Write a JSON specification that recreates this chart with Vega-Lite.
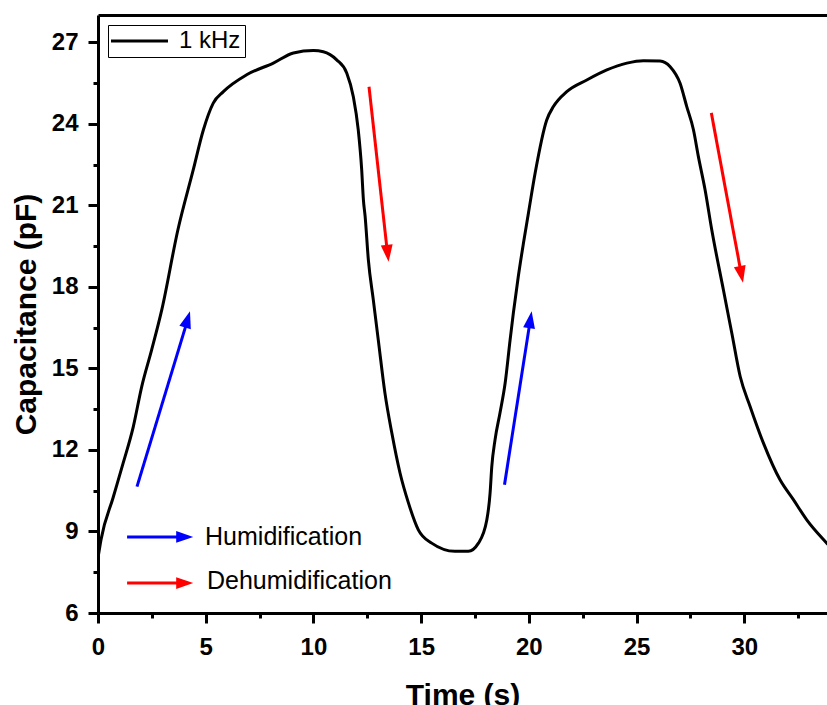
{
  "$schema": "https://vega.github.io/schema/vega-lite/v6.json",
  "width": 729,
  "height": 598,
  "autosize": {"type": "none"},
  "padding": {"left": 98, "top": 15, "right": 0, "bottom": 92},
  "background": "white",
  "config": {
    "view": {"stroke": null},
    "font": "Liberation Sans",
    "axis": {"grid": false, "domainColor": "black", "tickColor": "black", "labelColor": "black", "titleColor": "black", "labelFlush": false},
    "legend": {
      "orient": "top-left", "offset": 10, "padding": 4, "strokeColor": "black", "strokeWidth": 1,
      "fillColor": "white", "cornerRadius": 0, "labelFontSize": 24, "labelFont": "Liberation Sans",
      "labelColor": "black", "symbolType": "M-1.37,0L4.63,0", "symbolStrokeWidth": 3, "symbolSize": 361,
      "labelOffset": 43, "title": null
    }
  },
  "datasets": {
    "curve": [
      {"t": 0, "v": 8.03, "series": "1 kHz"},
      {"t": 0.14, "v": 8.70, "series": "1 kHz"},
      {"t": 0.70, "v": 10.24, "series": "1 kHz"},
      {"t": 1.17, "v": 11.52, "series": "1 kHz"},
      {"t": 1.64, "v": 12.86, "series": "1 kHz"},
      {"t": 2.03, "v": 14.33, "series": "1 kHz"},
      {"t": 2.49, "v": 15.68, "series": "1 kHz"},
      {"t": 2.96, "v": 17.15, "series": "1 kHz"},
      {"t": 3.71, "v": 20.10, "series": "1 kHz"},
      {"t": 4.42, "v": 22.30, "series": "1 kHz"},
      {"t": 4.89, "v": 23.77, "series": "1 kHz"},
      {"t": 5.35, "v": 24.76, "series": "1 kHz"},
      {"t": 5.82, "v": 25.18, "series": "1 kHz"},
      {"t": 6.90, "v": 25.80, "series": "1 kHz"},
      {"t": 8.14, "v": 26.23, "series": "1 kHz"},
      {"t": 9.07, "v": 26.60, "series": "1 kHz"},
      {"t": 10.00, "v": 26.69, "series": "1 kHz"},
      {"t": 10.46, "v": 26.65, "series": "1 kHz"},
      {"t": 11.08, "v": 26.35, "series": "1 kHz"},
      {"t": 11.55, "v": 25.86, "series": "1 kHz"},
      {"t": 11.85, "v": 25.00, "series": "1 kHz"},
      {"t": 12.08, "v": 23.78, "series": "1 kHz"},
      {"t": 12.24, "v": 22.31, "series": "1 kHz"},
      {"t": 12.32, "v": 21.20, "series": "1 kHz"},
      {"t": 12.40, "v": 20.59, "series": "1 kHz"},
      {"t": 12.55, "v": 18.99, "series": "1 kHz"},
      {"t": 12.78, "v": 17.52, "series": "1 kHz"},
      {"t": 13.01, "v": 16.05, "series": "1 kHz"},
      {"t": 13.32, "v": 14.09, "series": "1 kHz"},
      {"t": 13.64, "v": 12.62, "series": "1 kHz"},
      {"t": 14.02, "v": 11.15, "series": "1 kHz"},
      {"t": 14.41, "v": 10.05, "series": "1 kHz"},
      {"t": 14.87, "v": 9.06, "series": "1 kHz"},
      {"t": 15.49, "v": 8.57, "series": "1 kHz"},
      {"t": 16.57, "v": 8.27, "series": "1 kHz"},
      {"t": 17.19, "v": 8.27, "series": "1 kHz"},
      {"t": 17.66, "v": 8.57, "series": "1 kHz"},
      {"t": 18.05, "v": 9.43, "series": "1 kHz"},
      {"t": 18.20, "v": 10.41, "series": "1 kHz"},
      {"t": 18.28, "v": 11.39, "series": "1 kHz"},
      {"t": 18.43, "v": 12.37, "series": "1 kHz"},
      {"t": 18.66, "v": 13.36, "series": "1 kHz"},
      {"t": 18.90, "v": 14.46, "series": "1 kHz"},
      {"t": 19.13, "v": 16.05, "series": "1 kHz"},
      {"t": 19.28, "v": 17.03, "series": "1 kHz"},
      {"t": 19.51, "v": 18.38, "series": "1 kHz"},
      {"t": 19.75, "v": 19.61, "series": "1 kHz"},
      {"t": 19.98, "v": 20.71, "series": "1 kHz"},
      {"t": 20.29, "v": 22.18, "series": "1 kHz"},
      {"t": 20.83, "v": 24.14, "series": "1 kHz"},
      {"t": 21.14, "v": 24.63, "series": "1 kHz"},
      {"t": 21.76, "v": 25.18, "series": "1 kHz"},
      {"t": 22.69, "v": 25.61, "series": "1 kHz"},
      {"t": 23.62, "v": 25.98, "series": "1 kHz"},
      {"t": 24.55, "v": 26.23, "series": "1 kHz"},
      {"t": 25.32, "v": 26.32, "series": "1 kHz"},
      {"t": 26.09, "v": 26.31, "series": "1 kHz"},
      {"t": 26.56, "v": 26.10, "series": "1 kHz"},
      {"t": 27.02, "v": 25.49, "series": "1 kHz"},
      {"t": 27.33, "v": 24.63, "series": "1 kHz"},
      {"t": 27.64, "v": 23.78, "series": "1 kHz"},
      {"t": 27.87, "v": 22.79, "series": "1 kHz"},
      {"t": 28.18, "v": 21.57, "series": "1 kHz"},
      {"t": 28.49, "v": 20.10, "series": "1 kHz"},
      {"t": 29.03, "v": 17.89, "series": "1 kHz"},
      {"t": 29.42, "v": 16.30, "series": "1 kHz"},
      {"t": 29.81, "v": 14.70, "series": "1 kHz"},
      {"t": 30.27, "v": 13.60, "series": "1 kHz"},
      {"t": 30.89, "v": 12.25, "series": "1 kHz"},
      {"t": 31.66, "v": 10.90, "series": "1 kHz"},
      {"t": 32.28, "v": 10.17, "series": "1 kHz"},
      {"t": 32.90, "v": 9.43, "series": "1 kHz"},
      {"t": 33.83, "v": 8.57, "series": "1 kHz"},
      {"t": 34.20, "v": 8.25, "series": "1 kHz"}
    ],
    "arrows": [
      {"t": 1.81, "v": 10.65, "bt": 4.09, "bv": 16.60, "tipT": 4.27, "tipV": 17.10, "angle": 16.7, "c": "#0000FF"},
      {"t": 18.87, "v": 10.72, "bt": 20.03, "bv": 16.60, "tipT": 20.13, "tipV": 17.10, "angle": 8.8, "c": "#0000FF"},
      {"t": 12.58, "v": 25.36, "bt": 13.41, "bv": 19.43, "tipT": 13.49, "tipV": 18.92, "angle": 173.6, "c": "#FF0000"},
      {"t": 28.47, "v": 24.40, "bt": 29.82, "bv": 18.65, "tipT": 29.94, "tipV": 18.15, "angle": 169.0, "c": "#FF0000"},
      {"t": 1.35, "v": 8.80, "bt": 3.77, "bv": 8.80, "tipT": 4.42, "tipV": 8.80, "angle": 90, "c": "#0000FF"},
      {"t": 1.35, "v": 7.10, "bt": 3.77, "bv": 7.10, "tipT": 4.42, "tipV": 7.10, "angle": 90, "c": "#FF0000"}
    ],
    "notes": [
      {"t": 4.97, "v": 8.49, "label": "Humidification"},
      {"t": 5.06, "v": 6.89, "label": "Dehumidification"}
    ]
  },
  "resolve": {"axis": {"x": "independent", "y": "independent"}},
  "layer": [
    {
      "data": {"name": "curve"},
      "mark": {"type": "line", "strokeWidth": 3, "interpolate": "monotone", "clip": true},
      "encoding": {
        "x": {
          "field": "t", "type": "quantitative",
          "scale": {"domain": [0, 33.84], "nice": false, "zero": false},
          "axis": {
            "orient": "bottom", "values": [0, 5, 10, 15, 20, 25, 30], "format": "d",
            "domainWidth": 3, "tickWidth": 3, "tickSize": 10, "labelPadding": 12,
            "labelFontSize": 24, "labelFontWeight": "bold", "labelFont": "Liberation Sans",
            "title": "Time (s)", "titleFontSize": 30, "titleFontWeight": "bold", "titleFont": "Liberation Sans",
            "titlePadding": 21
          }
        },
        "y": {
          "field": "v", "type": "quantitative",
          "scale": {"domain": [6, 28], "nice": false, "zero": false},
          "axis": {
            "orient": "left", "values": [6, 9, 12, 15, 18, 21, 24, 27], "format": "d",
            "domainWidth": 3, "tickWidth": 3, "tickSize": 10, "labelPadding": 10,
            "labelFontSize": 24, "labelFontWeight": "bold", "labelFont": "Liberation Sans",
            "title": "Capacitance (pF)", "titleFontSize": 30, "titleFontWeight": "bold", "titleFont": "Liberation Sans",
            "titlePadding": 10
          }
        },
        "color": {"field": "series", "type": "nominal", "scale": {"range": ["black"]}}
      }
    },
    {
      "data": {"name": "arrows"},
      "mark": {"type": "rule", "strokeWidth": 3},
      "encoding": {
        "x": {
          "field": "t", "type": "quantitative",
          "axis": {"orient": "bottom", "values": [2.5, 7.5, 12.5, 17.5, 22.5, 27.5, 32.5], "labels": false, "domain": false, "tickWidth": 3, "tickSize": 5, "title": null}
        },
        "x2": {"field": "bt"},
        "y": {
          "field": "v", "type": "quantitative",
          "axis": {"orient": "left", "values": [7.5, 10.5, 13.5, 16.5, 19.5, 22.5, 25.5], "labels": false, "domain": false, "tickWidth": 3, "tickSize": 5, "title": null}
        },
        "y2": {"field": "bv"},
        "stroke": {"field": "c", "type": "nominal", "scale": null}
      }
    },
    {
      "data": {"name": "arrows"},
      "mark": {"type": "point", "shape": "M0,0L0.7,2L-0.7,2Z", "size": 289, "filled": true, "opacity": 1, "strokeWidth": 0},
      "encoding": {
        "x": {
          "field": "tipT", "type": "quantitative",
          "axis": {"orient": "top", "labels": false, "ticks": false, "domain": true, "domainWidth": 3, "title": null}
        },
        "y": {"field": "tipV", "type": "quantitative", "axis": null},
        "angle": {"field": "angle", "type": "quantitative", "scale": null},
        "fill": {"field": "c", "type": "nominal", "scale": null}
      }
    },
    {
      "data": {"name": "notes"},
      "mark": {"type": "text", "align": "left", "baseline": "alphabetic", "fontSize": 25, "font": "Liberation Sans", "color": "black"},
      "encoding": {
        "x": {"field": "t", "type": "quantitative", "axis": null},
        "y": {"field": "v", "type": "quantitative", "axis": null},
        "text": {"field": "label"}
      }
    }
  ]
}
